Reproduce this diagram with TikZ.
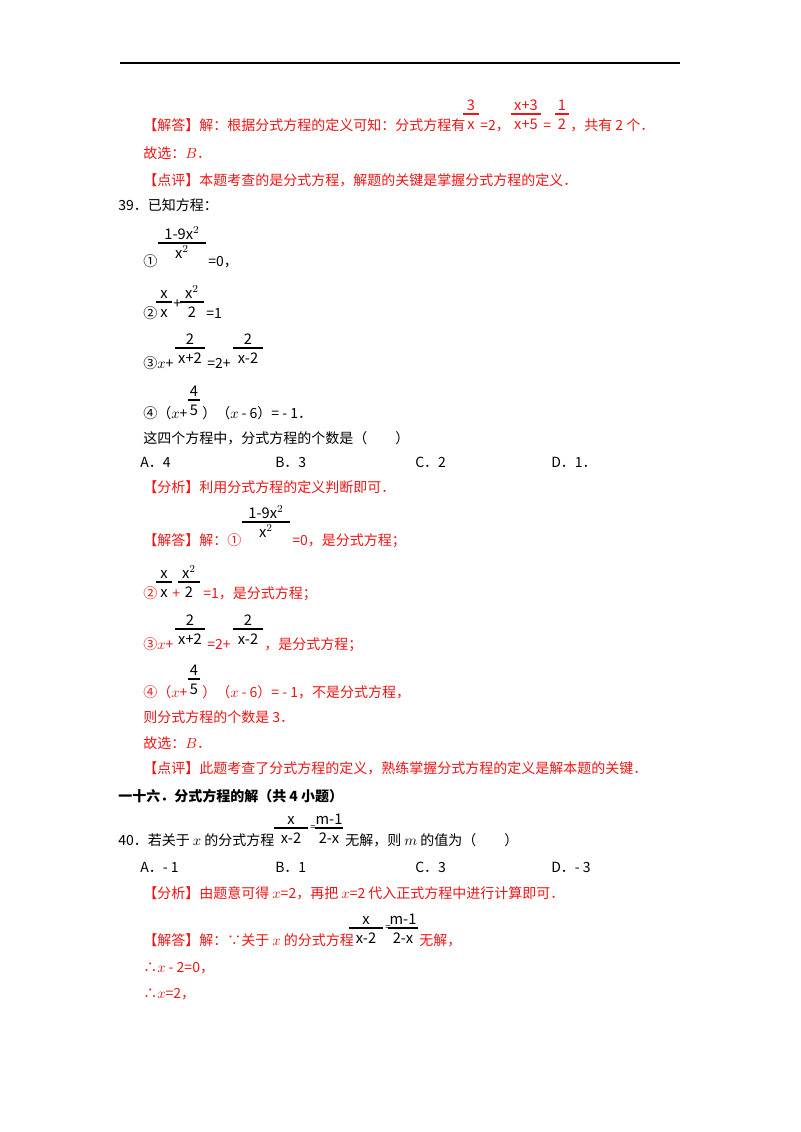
\documentclass[tikz,border=0pt]{standalone}
\usepackage{fontspec}
\setmainfont{Noto Sans CJK SC}
\newfontfamily\lat{Liberation Serif}
\definecolor{rd}{RGB}{240,20,20}
\newcommand{\FR}[6]{% xc, ly, halfwidth, num, den, color
  \draw[#6,line width=0.8pt] (#1-#3,#2) -- (#1+#3,#2);
  \node[anchor=base,inner sep=0,text=#6,font=\fontsize{11}{12}\selectfont] at (#1,#2-4) {#4};
  \node[anchor=base,inner sep=0,text=#6,font=\fontsize{11}{12}\selectfont] at (#1,#2+15) {#5};}
\begin{document}
\begin{tikzpicture}[x=0.75pt,y=-0.75pt,
  t/.style={anchor=base west,inner sep=0,font=\fontsize{10.5}{12}\selectfont},
  r/.style={t,text=rd}]
\useasboundingbox (0,0) rectangle (800,1132);
\draw[line width=0.8pt] (120,63) -- (680,63);
% line 1
\node[r] (l1) at (143,130) {【解答】解：根据分式方程的定义可知：分式方程有};
\FR{471}{114}{8}{3}{x}{rd}
\node[r] at (480,130) {=2，};
\FR{526}{114}{15}{x+3}{x+5}{rd}
\node[r] at (543,130) {=};
\FR{562}{114}{7}{1}{2}{rd}
\node[r] at (570,130) {，共有 2 个．};
\node[r] at (143,158) {故选：$B$．};
\node[r] at (143,185) {【点评】本题考查的是分式方程，解题的关键是掌握分式方程的定义．};
\node[t] at (118,210) {39．已知方程：};
% 1
\node[t] at (143,266) {①};
\FR{182}{243}{24}{1-9x$^{2}$}{x$^{2}$}{black}
\node[t] at (208,266) {=0，};
% 2
\node[t] at (143,318) {②};
\FR{164}{302}{8}{x}{x}{black}
\node[t] at (173,308) {+};
\FR{192}{302}{12}{x$^{2}$}{2}{black}
\node[t] at (206,318) {=1};
% 3
\node[t] at (143,368) {③$x$+};
\FR{190}{348}{15}{2}{x+2}{black}
\node[t] at (207,368) {=2+};
\FR{248}{348}{15}{2}{x-2}{black}
% 4
\node[t] at (143,418) {④（$x$+};
\FR{194}{400}{6}{4}{5}{black}
\node[t] at (202,418) {）（$x$ - 6）= - 1．};
\node[t] at (143,443) {这四个方程中，分式方程的个数是（\qquad）};
\node[t] at (140,467) {A．4};
\node[t] at (275,467) {B．3};
\node[t] at (415,467) {C．2};
\node[t] at (551,467) {D．1．};
\node[r] at (143,492) {【分析】利用分式方程的定义判断即可．};
% answer
\node[r] at (143,545) {【解答】解：①};
\FR{266}{522}{24}{1-9x$^{2}$}{x$^{2}$}{black}
\node[r] at (292,545) {=0，是分式方程；};
\node[r] at (143,598) {②};
\FR{164}{582}{8}{x}{x}{black}
\node[r] at (172,598) {+};
\FR{189}{582}{11}{x$^{2}$}{2}{black}
\node[r] at (203,598) {=1，是分式方程；};
\node[r] at (143,649) {③$x$+};
\FR{190}{629}{15}{2}{x+2}{black}
\node[r] at (207,649) {=2+};
\FR{248}{629}{15}{2}{x-2}{black}
\node[r] at (264,649) {，是分式方程；};
\node[r] at (143,697) {④（$x$+};
\FR{194}{679}{6}{4}{5}{black}
\node[r] at (202,697) {）（$x$ - 6）= - 1，不是分式方程，};
\node[r] at (143,722) {则分式方程的个数是 3．};
\node[r] at (143,748) {故选：$B$．};
\node[r] at (143,773) {【点评】此题考查了分式方程的定义，熟练掌握分式方程的定义是解本题的关键．};
\node[t,font=\fontsize{10.5}{12}\selectfont\bfseries] at (118,801) {一十六．分式方程的解（共 4 小题）};
% 40
\node[t] at (118,845) {40．若关于 $x$ 的分式方程};
\FR{291}{828}{17}{x}{x-2}{black}
\node[t,font=\fontsize{7}{8}\selectfont] at (310,830) {=};
\FR{329}{828}{14}{m-1}{2-x}{black}
\node[t] at (345,845) {无解，则 $m$ 的值为（\qquad）};
\node[t] at (140,872) {A．- 1};
\node[t] at (275,872) {B．1};
\node[t] at (415,872) {C．3};
\node[t] at (551,872) {D．- 3};
\node[r] at (143,898) {【分析】由题意可得 $x$=2，再把 $x$=2 代入正式方程中进行计算即可．};
\node[r] at (143,945) {【解答】解：∵关于 $x$ 的分式方程};
\FR{366}{928}{17}{x}{x-2}{black}
\node[t,font=\fontsize{7}{8}\selectfont] at (385,930) {=};
\FR{403}{928}{15}{m-1}{2-x}{black}
\node[r] at (419,945) {无解，};
\node[r] at (143,972) {∴$x$ - 2=0，};
\node[r] at (143,998) {∴$x$=2，};
\end{tikzpicture}
\end{document}
